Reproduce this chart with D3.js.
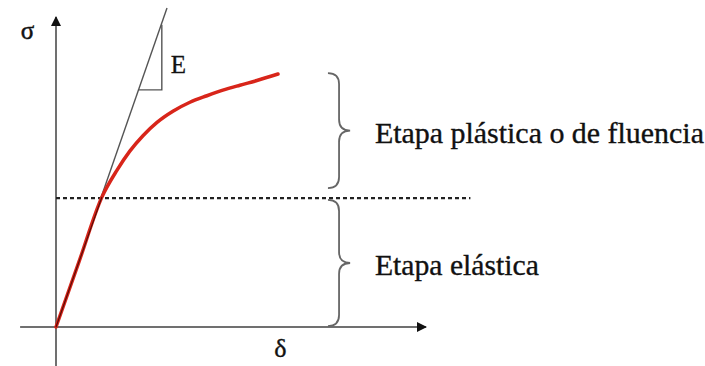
<!DOCTYPE html>
<html>
<head>
<meta charset="utf-8">
<script src="https://cdn.jsdelivr.net/npm/d3@7"></script>
<style>
  html, body { margin: 0; padding: 0; background: #fff; }
  svg { display: block; }
  text { font-family: "Liberation Serif", "Times New Roman", serif; fill: #111; }
</style>
</head>
<body>
<svg id="chart" width="705" height="366"></svg>
<script>
// ---- data (arbitrary units: δ on x, σ on y) ----
const curveDelta = [0, 6.2, 12.4, 16.5, 20, 23.5, 27.3, 31.6, 36.2, 40.8, 45.1, 49.7, 54.3, 60];
const curveSigma = [0, 21, 41.9, 50.6, 56.8, 61.7, 66.0, 69.6, 72.5, 74.6, 76.4, 78.0, 79.5, 81.6];
const tangentDelta = [0, 30];
const tangentSigma = [0, 102.9];
const triangleDelta = [22.2, 28.6, 28.6];
const triangleSigma = [76.5, 76.5, 97.5];
const yieldSigma = 41.6;
const yieldSpan = [0, 112];
const stageLabels = ["Etapa plástica o de fluencia", "Etapa elástica"];
const stageFrom = [44.8, 0.3];
const stageTo = [81.9, 41];
const axisLabels = ["σ", "δ", "E"];

const svg = d3.select("#chart");
const x = d3.scaleLinear().domain([0, 100]).range([56, 426]);
const y = d3.scaleLinear().domain([0, 100]).range([327, 17]);

// arrow marker
svg.append("defs").append("marker")
  .attr("id", "arr").attr("viewBox", "0 0 10 10")
  .attr("refX", 9).attr("refY", 5)
  .attr("markerWidth", 10).attr("markerHeight", 10)
  .attr("markerUnits", "userSpaceOnUse")
  .attr("orient", "auto")
  .append("path").attr("d", "M0,0 L10,5 L0,10 Z").attr("fill", "#111");

const axisColor = "#707070";
// vertical axis
svg.append("line")
  .attr("x1", x(0)).attr("x2", x(0))
  .attr("y1", y(-13)).attr("y2", y(100))
  .attr("stroke", axisColor).attr("stroke-width", 2)
  .attr("marker-end", "url(#arr)");
// horizontal axis
svg.append("line")
  .attr("x1", x(-9.7)).attr("x2", x(100))
  .attr("y1", y(0)).attr("y2", y(0))
  .attr("stroke", axisColor).attr("stroke-width", 2)
  .attr("marker-end", "url(#arr)");

// yield dashed line
svg.append("line")
  .attr("x1", x(yieldSpan[0])).attr("x2", x(yieldSpan[1]))
  .attr("y1", y(yieldSigma)).attr("y2", y(yieldSigma))
  .attr("stroke", "#222").attr("stroke-width", 2.2)
  .attr("stroke-dasharray", "4,3");

// tangent line (modulus E)
svg.append("line")
  .attr("x1", x(tangentDelta[0])).attr("x2", x(tangentDelta[1]))
  .attr("y1", y(tangentSigma[0])).attr("y2", y(tangentSigma[1]))
  .attr("stroke", "#555").attr("stroke-width", 1.4);

// triangle
const tri = triangleDelta.map((d, i) => [x(d), y(triangleSigma[i])]);
svg.append("path")
  .attr("d", d3.line()(tri))
  .attr("fill", "none").attr("stroke", "#555").attr("stroke-width", 1.4);

// stress-strain curve
const pts = curveDelta.map((d, i) => [d, curveSigma[i]]);
svg.append("path")
  .datum(pts)
  .attr("d", d3.line().x(d => x(d[0])).y(d => y(d[1])).curve(d3.curveMonotoneX))
  .attr("fill", "none").attr("stroke", "#d8251a").attr("stroke-width", 3.5)
  .attr("stroke-linecap", "round");
// darker core on the elastic part
svg.append("path")
  .datum(pts.slice(0, 3))
  .attr("d", d3.line().x(d => x(d[0])).y(d => y(d[1])))
  .attr("fill", "none").attr("stroke", "#5a0c06").attr("stroke-width", 1.2);

// braces
const braceX = 76.5, braceTip = 79.5, braceHook = 73.5;
function bracePath(a, b) {
  const xv = x(braceX), xt = x(braceTip), xh = x(braceHook);
  const top = y(b), bot = y(a), mid = (top + bot) / 2;
  const r = 11;
  return `M${xh},${top} Q${xv},${top} ${xv},${top + r} L${xv},${mid - r} Q${xv},${mid} ${xt},${mid}` +
         ` Q${xv},${mid} ${xv},${mid + r} L${xv},${bot - r} Q${xv},${bot} ${xh},${bot}`;
}
const labelWidths = [329, 164];
stageLabels.forEach((lab, i) => {
  svg.append("path")
    .attr("d", bracePath(stageFrom[i], stageTo[i]))
    .attr("fill", "none").attr("stroke", "#666").attr("stroke-width", 1.8);
  const mid = (y(stageFrom[i]) + y(stageTo[i])) / 2;
  svg.append("text")
    .attr("x", x(86.2)).attr("y", mid + 12)
    .attr("font-size", 29)
    .attr("textLength", labelWidths[i])
    .attr("lengthAdjust", "spacingAndGlyphs")
    .attr("stroke", "#111").attr("stroke-width", 0.35)
    .text(lab);
});

// axis labels
svg.append("text").attr("x", x(-9.5)).attr("y", y(93)).attr("font-size", 25)
  .attr("stroke", "#111").attr("stroke-width", 0.5).text(axisLabels[0]);
svg.append("text").attr("x", x(59)).attr("y", y(-9.8)).attr("font-size", 26)
  .attr("stroke", "#111").attr("stroke-width", 0.4).text(axisLabels[1]);
svg.append("text").attr("x", x(31)).attr("y", y(82)).attr("font-size", 25)
  .attr("stroke", "#111").attr("stroke-width", 0.3).text(axisLabels[2]);
</script>
</body>
</html>
